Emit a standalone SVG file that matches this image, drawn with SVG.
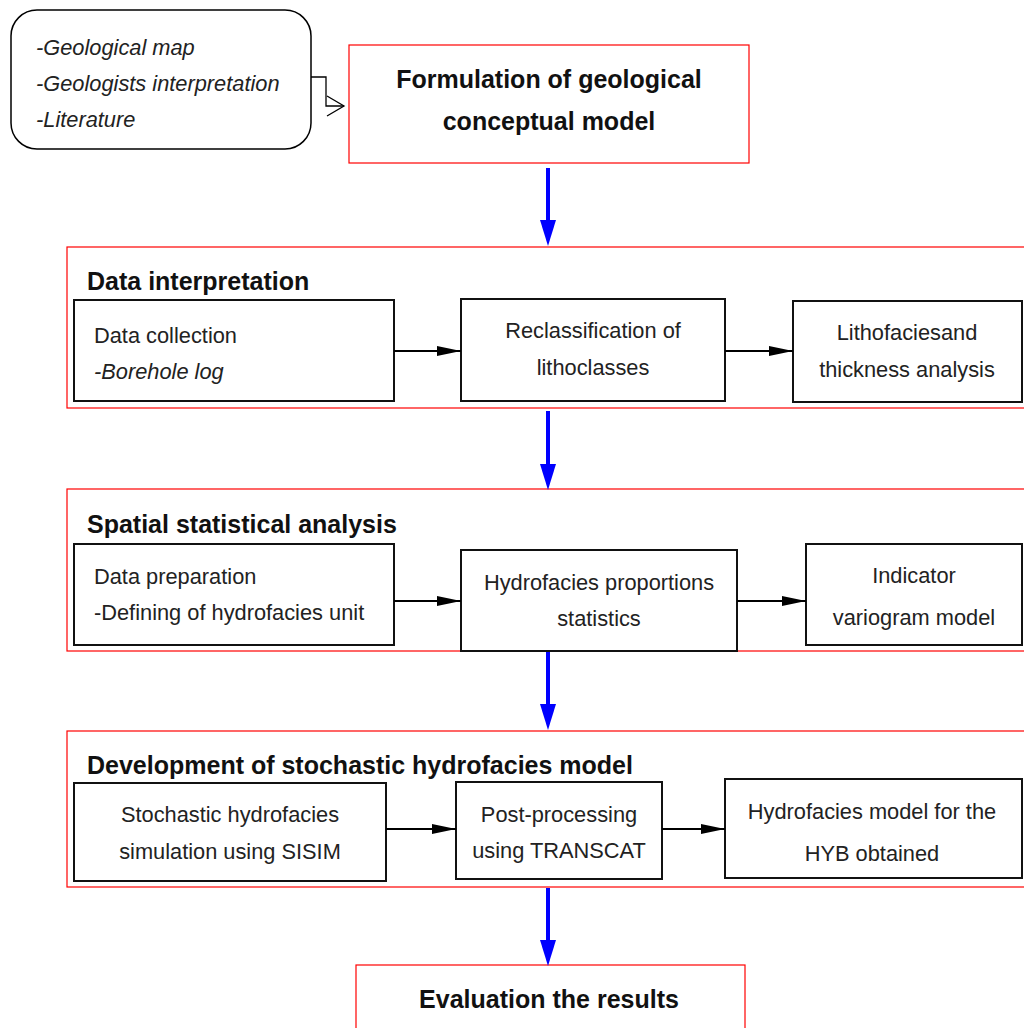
<svg xmlns="http://www.w3.org/2000/svg" width="1024" height="1028" viewBox="0 0 1024 1028">
<defs>
<style>
.t{font-family:"Liberation Sans",Arial,sans-serif;font-size:21.8px;fill:#222}
.i{font-style:italic}
.b{font-family:"Liberation Sans",Arial,sans-serif;font-weight:bold;font-size:25px;fill:#111}
.m{text-anchor:middle}
.box{fill:#fff;stroke:#111;stroke-width:2}
.grp{fill:none;stroke:#f00;stroke-width:1.2}
.blk{stroke:#000;stroke-width:2;fill:none}
.blue{stroke:#00f;stroke-width:4;fill:none}
</style>
<marker id="ah" viewBox="0 0 24 10" refX="24" refY="5" markerWidth="24" markerHeight="10" markerUnits="userSpaceOnUse" orient="auto"><path d="M0,0 L24,5 L0,10 Z" fill="#000"/></marker>
</defs>
<rect width="1024" height="1028" fill="#fff"/>

<g id="sources">
<rect x="11" y="10" width="300" height="139" rx="26" ry="26" fill="#fff" stroke="#000" stroke-width="1.5"/>
<text class="t i" x="36" y="55">-Geological map</text>
<text class="t i" x="36" y="91">-Geologists interpretation</text>
<text class="t i" x="36" y="127">-Literature</text>
</g>

<g id="formulation">
<rect x="349" y="45" width="400" height="118" fill="#fff" stroke="#f00" stroke-width="1.2"/>
<text class="b m" x="549" y="88">Formulation of geological</text>
<text class="b m" x="549" y="130">conceptual model</text>
</g>

<g id="data-interpretation">
<rect class="grp" x="67" y="247" width="970" height="161" stroke="#ff9a9a"/>
<text class="b" x="87" y="290">Data interpretation</text>
</g>
<g id="data-collection">
<rect class="box" x="74" y="300" width="320" height="101"/>
<text class="t" x="94" y="343">Data collection</text>
<text class="t i" x="94" y="379">-Borehole log</text>
</g>
<g id="reclassification">
<rect class="box" x="461" y="299" width="264" height="102"/>
<text class="t m" x="593" y="338">Reclassification of</text>
<text class="t m" x="593" y="375">lithoclasses</text>
</g>
<g id="lithofacies">
<rect class="box" x="793" y="301" width="229" height="101"/>
<text class="t m" x="907" y="340">Lithofaciesand</text>
<text class="t m" x="907" y="377">thickness analysis</text>
</g>

<g id="spatial">
<rect class="grp" x="67" y="489" width="970" height="162"/>
<text class="b" x="87" y="533">Spatial statistical analysis</text>
</g>
<g id="data-preparation">
<rect class="box" x="74" y="544" width="320" height="101"/>
<text class="t" x="94" y="584">Data preparation</text>
<text class="t" x="94" y="620">-Defining of hydrofacies unit</text>
</g>
<g id="proportions">
<rect class="box" x="461" y="550" width="276" height="101"/>
<text class="t m" x="599" y="590">Hydrofacies proportions</text>
<text class="t m" x="599" y="626">statistics</text>
</g>
<g id="variogram">
<rect class="box" x="806" y="544" width="216" height="101"/>
<text class="t m" x="914" y="583">Indicator</text>
<text class="t m" x="914" y="625">variogram model</text>
</g>

<g id="development">
<rect class="grp" x="67" y="731" width="970" height="156"/>
<text class="b" x="87" y="774">Development of stochastic hydrofacies model</text>
</g>
<g id="simulation">
<rect class="box" x="74" y="783" width="312" height="98"/>
<text class="t m" x="230" y="822">Stochastic hydrofacies</text>
<text class="t m" x="230" y="859">simulation using SISIM</text>
</g>
<g id="postprocessing">
<rect class="box" x="456" y="782" width="206" height="97"/>
<text class="t m" x="559" y="822">Post-processing</text>
<text class="t m" x="559" y="858">using TRANSCAT</text>
</g>
<g id="hyb-model">
<rect class="box" x="725" y="779" width="297" height="99"/>
<text class="t m" x="872" y="819">Hydrofacies model for the</text>
<text class="t m" x="872" y="861">HYB obtained</text>
</g>

<g id="evaluation">
<rect x="356" y="965" width="389" height="80" fill="#fff" stroke="#f00" stroke-width="1.2"/>
<text class="b m" x="549" y="1008">Evaluation the results</text>
</g>

<g id="connectors">
<path d="M311,77 H326 V106 H344" stroke="#000" stroke-width="1.3" fill="none"/>
<path d="M327,96 L344,106 L327,116" stroke="#000" stroke-width="1.3" fill="none"/>
<line class="blk" x1="394" y1="351" x2="461" y2="351" marker-end="url(#ah)"/>
<line class="blk" x1="725" y1="351" x2="793" y2="351" marker-end="url(#ah)"/>
<line class="blk" x1="394" y1="601" x2="461" y2="601" marker-end="url(#ah)"/>
<line class="blk" x1="737" y1="601" x2="806" y2="601" marker-end="url(#ah)"/>
<line class="blk" x1="386" y1="829" x2="456" y2="829" marker-end="url(#ah)"/>
<line class="blk" x1="662" y1="829" x2="725" y2="829" marker-end="url(#ah)"/>
<line class="blue" x1="548" y1="168" x2="548" y2="222"/>
<path d="M540,220 L556,220 L548,246 Z" fill="#00f"/>
<line class="blue" x1="548" y1="411" x2="548" y2="466"/>
<path d="M540,464 L556,464 L548,490 Z" fill="#00f"/>
<line class="blue" x1="548" y1="652" x2="548" y2="706"/>
<path d="M540,704 L556,704 L548,730 Z" fill="#00f"/>
<line class="blue" x1="548" y1="888" x2="548" y2="942"/>
<path d="M540,940 L556,940 L548,966 Z" fill="#00f"/>
</g>
</svg>
